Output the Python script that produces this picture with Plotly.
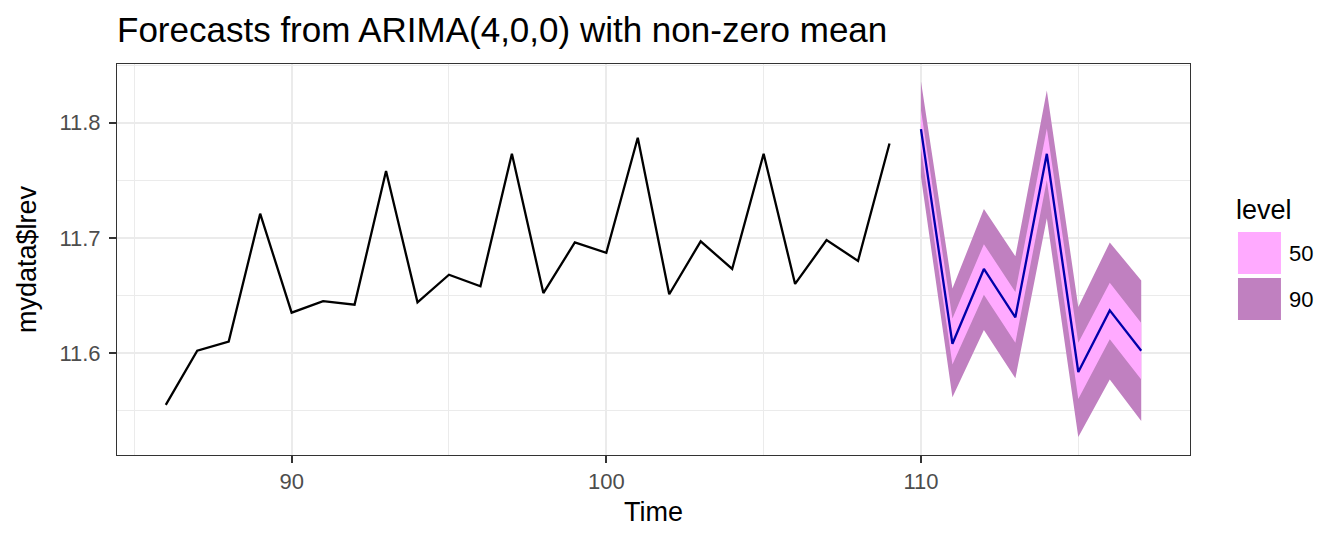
import plotly.graph_objects as go

time_hist = [86, 87, 88, 89, 90, 91, 92, 93, 94, 95, 96, 97,
             98, 99, 100, 101, 102, 103, 104, 105, 106, 107, 108, 109]
lrev = [11.555, 11.602, 11.610, 11.721, 11.635, 11.645, 11.642, 11.758,
        11.644, 11.668, 11.658, 11.773, 11.652, 11.696, 11.687, 11.787,
        11.651, 11.697, 11.673, 11.773, 11.660, 11.698, 11.680, 11.782]

# forecast horizon
time_fc = [110, 111, 112, 113, 114, 115, 116, 117]
fc_mean = [11.7945, 11.608, 11.673, 11.631, 11.773, 11.5835, 11.637, 11.602]
hi90 = [11.836, 11.656, 11.725, 11.684, 11.828, 11.640, 11.696, 11.663]
lo90 = [11.753, 11.5615, 11.620, 11.578, 11.717, 11.527, 11.577, 11.541]
hi50 = [11.811, 11.630, 11.6945, 11.653, 11.795, 11.609, 11.661, 11.626]
lo50 = [11.778, 11.590, 11.6505, 11.609, 11.750, 11.560, 11.612, 11.577]

levels = ["50", "90"]
level_colors = {"50": "#FFAAFF", "90": "#C080C0"}

W, H = 1344, 537
L, R, T, B = 116.5, 1190, 64, 455
FONT = "Liberation Sans, Arial, sans-serif"

fig = go.Figure()

# 90% band first, then 50% on top (like geom_ribbon order)
for name, hi, lo in [("90", hi90, lo90), ("50", hi50, lo50)]:
    fig.add_trace(go.Scatter(
        x=time_fc + time_fc[::-1],
        y=hi + lo[::-1],
        fill="toself",
        fillcolor=level_colors[name],
        line=dict(width=0),
        mode="lines",
        hoverinfo="skip",
        showlegend=False,
    ))

fig.add_trace(go.Scatter(x=time_hist, y=lrev, mode="lines",
                         line=dict(color="black", width=2.3), showlegend=False))
fig.add_trace(go.Scatter(x=time_fc, y=fc_mean, mode="lines",
                         line=dict(color="#0000AA", width=2.3), showlegend=False))


def px_x(p):
    return (p - L) / (R - L)


def px_y(p):
    return (B - p) / (B - T)


# hand-made ggplot style legend (big square keys)
shapes = []
annotations = []
key_tops = [232, 278]
for lvl, top in zip(levels, key_tops):
    shapes.append(dict(type="rect", xref="paper", yref="paper",
                       x0=px_x(1238), x1=px_x(1281),
                       y0=px_y(top + 42), y1=px_y(top),
                       fillcolor=level_colors[lvl], line=dict(width=0)))
    annotations.append(dict(text=lvl, xref="paper", yref="paper",
                            x=px_x(1287), y=px_y(top + 21), xanchor="left",
                            yanchor="middle", showarrow=False,
                            font=dict(family=FONT, size=22, color="black")))
annotations.append(dict(text="level", xref="paper", yref="paper",
                        x=px_x(1234), y=px_y(210), xanchor="left",
                        yanchor="middle", showarrow=False,
                        font=dict(family=FONT, size=27, color="black")))

axis_common = dict(
    showgrid=True, gridcolor="#EBEBEB", gridwidth=2,
    showline=True, linecolor="#333333", linewidth=1, mirror=True,
    ticks="outside", ticklen=7, tickwidth=1.5, tickcolor="#333333",
    tickfont=dict(family=FONT, size=22, color="#4D4D4D"),
    zeroline=False,
)

fig.update_layout(
    width=W, height=H,
    margin=dict(l=L, r=W - R, t=T, b=H - B),
    paper_bgcolor="white", plot_bgcolor="white",
    font=dict(family=FONT),
    title=dict(text="Forecasts from ARIMA(4,0,0) with non-zero mean",
               x=0, xref="paper", xanchor="left",
               y=1 - 30 / H, yref="container", yanchor="middle",
               font=dict(family=FONT, size=35, color="black")),
    xaxis=dict(range=[84.45, 118.55], tick0=90, dtick=10,
               minor=dict(tick0=85, dtick=5, showgrid=True,
                          gridcolor="#EBEBEB", gridwidth=1, ticks=""),
               title=dict(text="Time", standoff=8,
                          font=dict(family=FONT, size=27, color="black")),
               **axis_common),
    yaxis=dict(range=[11.5114, 11.851], tick0=11.6, dtick=0.1,
               tickformat=".1f", ticklabelstandoff=4,
               minor=dict(tick0=11.55, dtick=0.05, showgrid=True,
                          gridcolor="#EBEBEB", gridwidth=1, ticks=""),
               title=dict(text="mydata$lrev", standoff=14,
                          font=dict(family=FONT, size=27, color="black")),
               **axis_common),
    shapes=shapes,
    annotations=annotations,
    showlegend=False,
)

# page body has an 8px default margin; drop it so the figure sits at 0,0
fig.write_html("out.html", config={"displayModeBar": False},
               post_script="document.body.style.margin='0px';")
